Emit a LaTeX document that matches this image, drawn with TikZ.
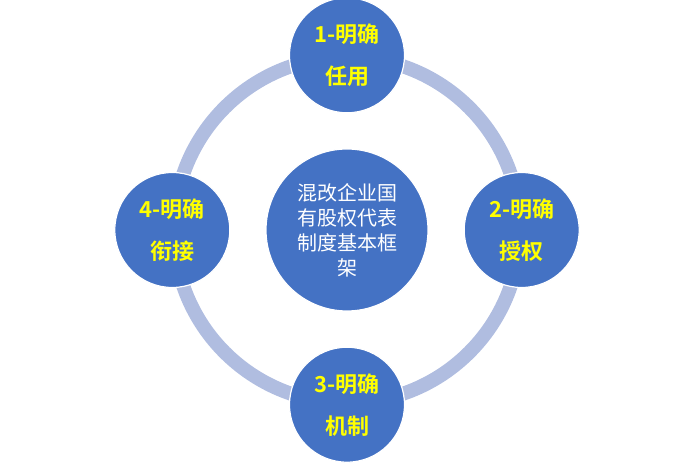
\documentclass[tikz,border=0pt]{standalone}
\usepackage{fontspec}
\newfontfamily\cjk{Noto Sans CJK SC}
\newfontfamily\cjkbold{Noto Sans CJK SC Bold}
\usetikzlibrary{positioning}

\definecolor{hubblue}{HTML}{4472C4}
\definecolor{ringblue}{HTML}{B0BDE0}
\definecolor{leafyellow}{HTML}{FFFF00}

\begin{document}
\begin{tikzpicture}[
  x=1pt, y=1pt,
  hub/.style={circle, fill=hubblue, draw=white, line width=1.2pt, minimum size=162pt, inner sep=0pt, align=center, text=white, font=\cjk\fontsize{20}{25}\selectfont},
  leaf/.style={circle, fill=hubblue, draw=white, line width=1.2pt, minimum size=115pt, inner sep=0pt, align=center, text=leafyellow, font=\cjkbold\fontsize{22}{42}\selectfont},
  ring/.style={draw=ringblue, line width=14pt},
  node distance=35pt,
]
  \useasboundingbox (0,0) rectangle (694,463);

  % ring behind everything
  \coordinate (mid) at (347,233);
  \draw[ring] (mid) circle[radius=173pt];

  \node[hub] (core) at (mid) {混改企业国\\有股权代表\\制度基本框\\架};

  \node[leaf, above=of core] (appoint) {1-明确\\任用};
  \node[leaf, right=of core] (authorize) {2-明确\\授权};
  \node[leaf, below=of core] (mechanism) {3-明确\\机制};
  \node[leaf, left=of core] (link) {4-明确\\衔接};
\end{tikzpicture}
\end{document}
